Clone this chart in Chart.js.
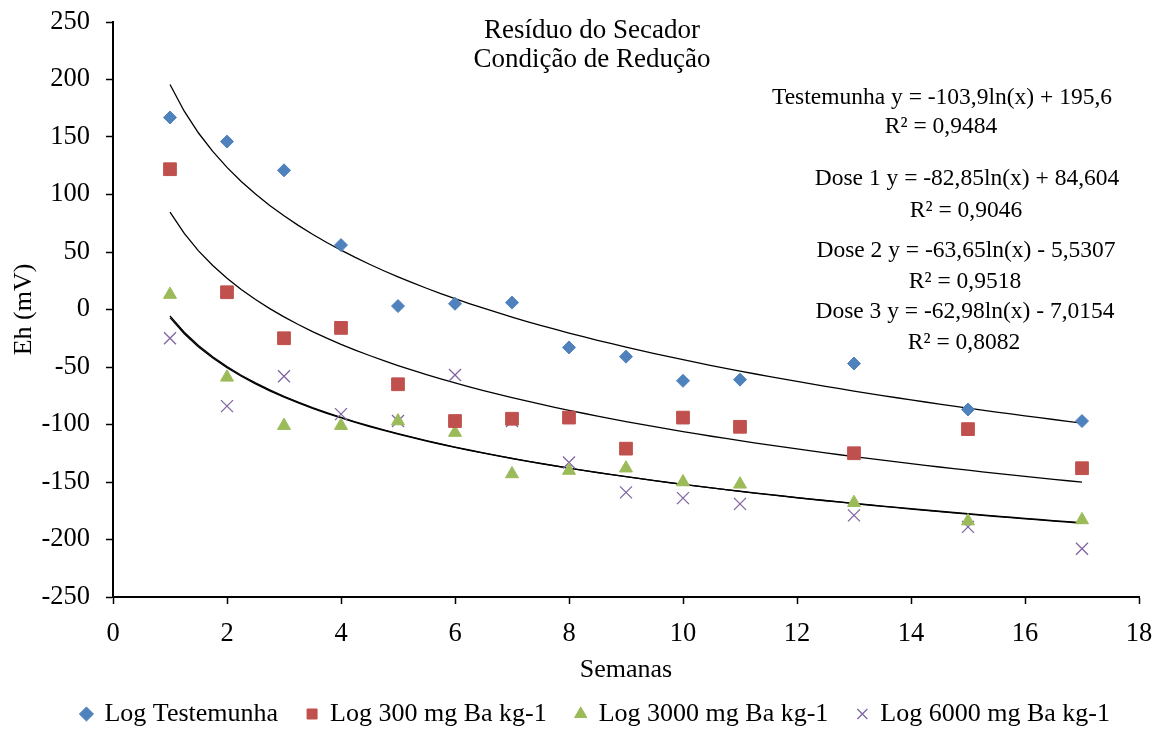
<!DOCTYPE html>
<html>
<head>
<meta charset="utf-8">
<title>Eh - Resíduo do Secador</title>
<script src="https://cdn.jsdelivr.net/npm/chart.js@4.4.1/dist/chart.umd.min.js"></script>
<style>
  html, body { margin: 0; padding: 0; background: #fff; }
  #wrap { width: 1153px; height: 729px; }
</style>
</head>
<body>
<div id="wrap"><canvas id="ehChart" width="1153" height="729"></canvas></div>
<script>
// semanas de incubação
const semanas = [1, 2, 3, 4, 5, 6, 7, 8, 9, 10, 11, 13, 15, 17];

// Eh (mV) de cada tratamento
const testemunha = [167, 146, 121, 56, 3, 5, 6, -33, -41, -62, -61, -47, -87, -97];
const dose300 = [122, 15, -25, -16, -65, -97, -95, -94, -121, -94, -102, -125, -104, -138];
const dose3000 = [13, -59, -101, -101, -97, -107, -143, -140, -138, -150, -152, -168, -184, -183];
const dose6000 = [-25, -84, -58, -91, -97, -57, -97, -133, -159, -164, -169, -179, -189, -208];

const nomes = ['Log Testemunha', 'Log 300 mg Ba kg-1', 'Log 3000 mg Ba kg-1', 'Log 6000 mg Ba kg-1'];
const cores = ['#4F81BD', '#C0504D', '#9BBB59', '#8064A2'];

// linhas de tendência logarítmicas: y = a ln(x) + b
const coefA = [-103.9, -82.85, -63.65, -62.98];
const coefB = [195.6, 84.604, -5.5307, -7.0154];
const equacoes = [
  ['Testemunha y = -103,9ln(x) + 195,6', 'R² = 0,9484'],
  ['Dose 1 y = -82,85ln(x) + 84,604', 'R² = 0,9046'],
  ['Dose 2 y = -63,65ln(x) - 5,5307', 'R² = 0,9518'],
  ['Dose 3 y = -62,98ln(x) - 7,0154', 'R² = 0,8082']
];

const titulo = ['Resíduo do Secador', 'Condição de Redução'];

const FONTE = "'Liberation Serif', 'Times New Roman', serif";

function pontos(ys) {
  return semanas.map((x, i) => ({ x: x, y: ys[i] }));
}

// curva da tendência entre a primeira e a última semana
function tendencia(k) {
  const pts = [];
  const x0 = semanas[0], x1 = semanas[semanas.length - 1];
  for (let x = x0; x <= x1 + 1e-9; x += 0.25) {
    pts.push({ x: x, y: coefA[k] * Math.log(x) + coefB[k] });
  }
  return pts;
}

const estilos = [
  { pointStyle: 'rectRot', radius: 6.5, borderWidth: 1 },
  { pointStyle: 'rect', radius: 9, borderWidth: 1 },
  { pointStyle: 'triangle', radius: 7.5, borderWidth: 1 },
  { pointStyle: 'crossRot', radius: 8.5, borderWidth: 1.3 }
];

const series = [testemunha, dose300, dose3000, dose6000];

const datasets = series.map((ys, k) => ({
  label: nomes[k],
  data: pontos(ys),
  showLine: false,
  pointStyle: estilos[k].pointStyle,
  pointRadius: estilos[k].radius,
  pointBackgroundColor: cores[k],
  pointBorderColor: cores[k],
  pointBorderWidth: estilos[k].borderWidth,
  backgroundColor: cores[k],
  borderColor: cores[k],
  borderWidth: estilos[k].borderWidth
}));

coefA.forEach((a, k) => {
  datasets.push({
    label: 'tend' + k,
    data: tendencia(k),
    showLine: true,
    pointRadius: 0,
    borderColor: '#000',
    borderWidth: 1.3,
    tension: 0
  });
});

// título e equações escritos dentro da área do gráfico
const textos = {
  id: 'textos',
  afterDraw(chart) {
    const ctx = chart.ctx;
    ctx.save();
    ctx.fillStyle = '#000';
    ctx.textAlign = 'center';
    ctx.textBaseline = 'alphabetic';
    ctx.font = '27px ' + FONTE;
    ctx.fillText(titulo[0], 592, 38);
    ctx.fillText(titulo[1], 592, 67);

    const pos = [
      [942, 104, 133],
      [967, 185, 217],
      [966, 257, 288],
      [965, 318, 349]
    ];
    ctx.font = '23.5px ' + FONTE;
    equacoes.forEach((eq, k) => {
      ctx.fillText(eq[0], pos[k][0], pos[k][1]);
      ctx.fillText(eq[1], pos[k][0] - 1, pos[k][2]);
    });
    ctx.restore();
  }
};

new Chart(document.getElementById('ehChart'), {
  type: 'scatter',
  data: { datasets: datasets },
  plugins: [textos],
  options: {
    responsive: false,
    animation: false,
    layout: { padding: { left: 0, right: 14, top: 22, bottom: 0 } },
    plugins: {
      tooltip: { enabled: false },
      legend: {
        position: 'bottom',
        align: 'end',
        maxHeight: 57,
        labels: {
          usePointStyle: true,
          boxWidth: 10,
          boxHeight: 10,
          padding: 29,
          color: '#000',
          font: { family: FONTE, size: 26 },
          filter: item => item.datasetIndex < 4
        }
      }
    },
    scales: {
      x: {
        type: 'linear',
        min: 0,
        max: 18,
        afterFit: s => {
          s.height = 75;
          s.paddingLeft = 0;
          s.paddingRight = 0;
        },
        ticks: {
          stepSize: 2,
          padding: 14,
          color: '#000',
          font: { family: FONTE, size: 26.5 }
        },
        grid: {
          drawOnChartArea: false,
          drawTicks: true,
          tickLength: 7,
          tickColor: '#000',
          tickWidth: 1.5
        },
        border: { display: true, color: '#000', width: 2 },
        title: {
          display: true,
          text: 'Semanas',
          color: '#000',
          font: { family: FONTE, size: 26 },
          padding: { top: 0, bottom: -14 }
        }
      },
      y: {
        type: 'linear',
        min: -250,
        max: 250,
        afterFit: s => {
          s.width = 113;
          s.paddingTop = 0;
          s.paddingBottom = 0;
        },
        ticks: {
          stepSize: 50,
          padding: 16,
          color: '#000',
          font: { family: FONTE, size: 26.5 }
        },
        grid: {
          drawOnChartArea: false,
          drawTicks: true,
          tickLength: 7,
          tickColor: '#000',
          tickWidth: 1.5
        },
        border: { display: true, color: '#000', width: 2 },
        title: {
          display: true,
          text: 'Eh (mV)',
          color: '#000',
          font: { family: FONTE, size: 26 },
          padding: { top: 9, bottom: 0 }
        }
      }
    }
  }
});
</script>
</body>
</html>
